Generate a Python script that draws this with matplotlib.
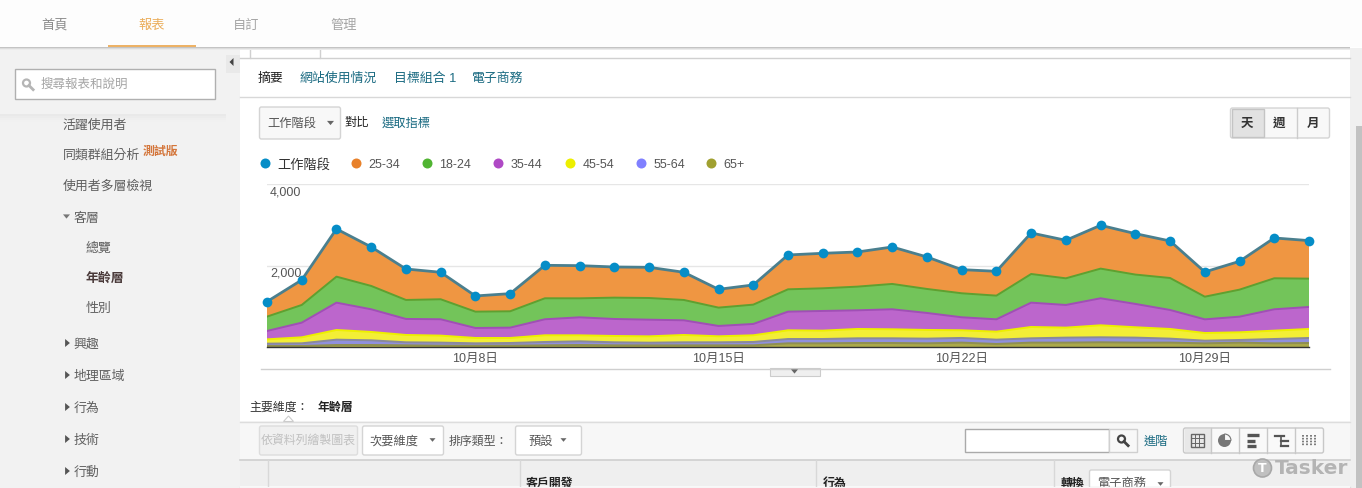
import matplotlib
matplotlib.use("Agg")
import matplotlib.pyplot as plt
from matplotlib.patches import Rectangle, FancyBboxPatch, Circle, Polygon, Wedge

plt.rcParams["font.family"] = ["Liberation Sans", "Noto Sans CJK TC", "DejaVu Sans"]

W, H = 1362, 489

days = list(range(2, 33))
age_65 = [33, 33, 57, 57, 49, 41, 41, 41, 49, 57, 49, 49, 49, 49, 49,
          98, 98, 106, 106, 98, 115, 82, 115, 115, 123, 115, 115, 98, 115, 98, 106]
age_55_64 = [57, 65, 131, 115, 74, 74, 57, 65, 82, 90, 74, 65, 74, 74, 82,
             106, 106, 115, 115, 115, 115, 106, 106, 123, 123, 123, 98, 65, 65, 106, 123]
age_45_54 = [106, 147, 237, 205, 180, 172, 131, 123, 164, 147, 155, 155, 180, 147, 164,
             213, 205, 229, 221, 213, 188, 196, 278, 245, 294, 254, 237, 188, 188, 205, 221]
age_35_44 = [205, 360, 671, 556, 393, 401, 245, 254, 393, 442, 417, 409, 360, 254, 278,
             458, 483, 458, 491, 417, 319, 303, 597, 556, 663, 573, 466, 335, 384, 524, 540]
age_18_24 = [352, 434, 638, 573, 466, 491, 401, 401, 515, 466, 524, 532, 499, 450, 474,
             548, 556, 581, 622, 589, 589, 581, 703, 654, 728, 720, 785, 556, 663, 761, 695]
age_25_34 = [368, 614, 1170, 957, 761, 663, 384, 434, 810, 802, 753, 753, 679, 450, 483,
             843, 859, 851, 908, 785, 581, 597, 1006, 933, 1063, 1006, 908, 605, 695, 990, 933]
sessions = [1121, 1652, 2904, 2462, 1922, 1841, 1260, 1317, 2012, 2004, 1971, 1963, 1841, 1423, 1530,
            2266, 2307, 2339, 2462, 2217, 1906, 1865, 2806, 2626, 2994, 2789, 2609, 1849, 2110, 2683, 2618]

y_ticks = [2000, 4000]
y_labels = ["2,000", "4,000"]
x_ticks = [8, 15, 22, 29]
x_labels = ["10月8日", "10月15日", "10月22日", "10月29日"]

legend_names = ["工作階段", "25-34", "18-24", "35-44", "45-54", "55-64", "65+"]
legend_colors = ["#058DC7", "#E8812A", "#50B432", "#AF49C5", "#EDEF00", "#8080FF", "#A0A030"]
legend_dots = [265, 356, 427, 498, 570, 641, 711]

TEAL = "#1B6B82"
TXT = "#555555"

fig = plt.figure(figsize=(W / 100, H / 100), dpi=100, facecolor="white")

# ui layer in pixel coordinates, nudged 1px down to line up with the screenshot
ui = fig.add_axes([0, 0, 1, 1], zorder=1)
ui.set_xlim(0.5, W + 0.5); ui.set_ylim(H - 1, -1); ui.axis("off")


def box(x0, y0, x1, y1, fc="white", ec="none", lw=1, z=2):
    ui.add_patch(Rectangle((x0, y0), x1 - x0, y1 - y0, fc=fc, ec=ec, lw=lw, zorder=z))


def rbox(x0, y0, x1, y1, fc="#f8f8f8", ec="#d4d4d4"):
    ui.add_patch(FancyBboxPatch((x0 + 2, y0 + 2), x1 - x0 - 4, y1 - y0 - 4, boxstyle="round,pad=2",
                                fc=fc, ec=ec, lw=1, zorder=3))


def txt(x, y, s, color=TXT, size=9.3, ha="left", weight="normal"):
    return ui.text(x, y, s, color=color, fontsize=size, ha=ha, va="center", weight=weight, zorder=5)


def tri(x, y, s=4, color="#666666", right=False):
    if right:
        pts = [(x - s * 0.6, y - s), (x - s * 0.6, y + s), (x + s * 0.6, y)]
    else:
        pts = [(x - s, y - s * 0.6), (x + s, y - s * 0.6), (x, y + s * 0.6)]
    ui.add_patch(Polygon(pts, fc=color, ec="none", zorder=5))


def glass(x, y, color="#555555", r=4):
    ui.add_patch(Circle((x, y), r, fc="none", ec=color, lw=1.6, zorder=5))
    ui.plot([x + r * 0.7, x + r * 1.9], [y + r * 0.7, y + r * 1.9], color=color, lw=2, zorder=5)


# sidebar and right gutter
box(0, 48, 240, H, fc="#f2f2f2", z=1)
box(1350, 48, W + 1, H, fc="#f0f0f0", z=1)
for i, c in enumerate(["#e9e9e9", "#ececec", "#efefef", "#f1f1f1"]):
    box(0, 114 + i * 2, 226, 116 + i * 2, fc=c, z=1)
box(226, 55, 240, 73, fc="#e9e9e9", z=1)
ui.add_patch(Polygon([(234, 58), (234, 66), (230, 62)], fc="#444444", zorder=3))
box(15.5, 68.5, 215.5, 98.5, fc="white", ec="#b0b0b0", lw=1)
glass(27, 83, color="#b5b5b5", r=3.5)
txt(41, 84, "搜尋報表和說明", color="#a5a5a5", size=9)

side_items = [(63, 124, "活躍使用者"), (63, 154, "同類群組分析"), (63, 185, "使用者多層檢視"),
              (74, 217, "客層"), (86, 247, "總覽"), (86, 307, "性別"), (74, 343, "興趣"),
              (74, 375, "地理區域"), (74, 407, "行為"), (74, 439, "技術"), (74, 471, "行動")]
for x, y, s in side_items:
    txt(x, y + 0.5, s, color="#5f5f5f")
txt(86, 277.5, "年齡層", color="#4a3a3a", weight="bold")
txt(143, 151, "測試版", color="#D4763B", size=8.6, weight="bold")
tri(67, 216.5, s=3.5, color="#777777")
for y in [343, 375, 407, 439, 471]:
    tri(68, y, s=4, color="#555555", right=True)

# top nav
box(0, -1, W + 1, 47, fc="#fdfdfd", z=6)
for i, c in enumerate(["#c4c4c4", "#dcdcdc", "#ebebeb"]):
    box(0, 47 + i, 1350, 48 + i, fc=c, z=6)
box(108, 45, 196, 47, fc="#EDB266", z=7)
for x, s, c in [(55, "首頁", "#8c8c8c"), (152, "報表", "#EBAE5C"), (247, "自訂", "#a5a5a5"), (344, "管理", "#a5a5a5")]:
    ui.text(x, 24.5, s, color=c, fontsize=9.5, ha="center", va="center", zorder=8)

# tabs
ui.plot([250, 250, 320, 320], [48, 58, 58, 48], color="#d0d0d0", lw=1, zorder=3)
ui.plot([240, 250], [58, 58], color="#d0d0d0", lw=1, zorder=3)
ui.plot([320, 1350], [58, 58], color="#d0d0d0", lw=1, zorder=3)
ui.plot([240, 1350], [96.5, 96.5], color="#d8d8d8", lw=1, zorder=3)
txt(258, 77.5, "摘要", color="#222222")
txt(300, 77.5, "網站使用情況", color=TEAL)
txt(394, 77.5, "目標組合 1", color=TEAL)
txt(472, 77.5, "電子商務", color=TEAL)

# metric selector
rbox(260, 107, 341, 139)
txt(268, 123, "工作階段", size=8.8)
tri(331, 123, s=3.5)
txt(345, 121.5, "對比", color="#222222", size=8.8)
txt(382, 122.5, "選取指標", color=TEAL, size=8.8)

# day week month
rbox(1231, 108, 1330, 138)
box(1232, 109, 1264, 137, fc="#e2e2e2", ec="#c4c4c4", z=4)
ui.plot([1297, 1297], [108, 138], color="#cccccc", lw=1, zorder=5)
for x, s in [(1247, "天"), (1280, "週"), (1313, "月")]:
    ui.text(x, 122.5, s, color="#333333", fontsize=9, ha="center", va="center", weight="bold", zorder=6)

# legend
for x, name, c in zip(legend_dots, legend_names, legend_colors):
    ui.plot([x], [163], "o", color=c, ms=7.2, mew=0, zorder=5)
    if name == legend_names[0]:
        txt(x + 13, 164, name, color="#333333", size=9.5)
    else:
        txt(x + 13, 163.5, name, size=9)

# chart strip bottom
ui.plot([261, 1330], [368.5, 368.5], color="#cfcfcf", lw=1, zorder=3)
box(770, 368, 820, 376, fc="#efefef", ec="#cccccc", lw=0.8)
tri(795, 371.5, s=3.5)

# primary dimension
txt(250, 406.5, "主要維度：", color="#333333", size=8.6)
txt(318, 406.5, "年齡層", color="#222222", size=8.6, weight="bold")

# toolbar band
box(240, 421, 1350, 460, fc="#f7f7f7", z=1)
ui.plot([240, 1350], [421.5, 421.5], color="#dddddd", lw=1, zorder=3)
ui.add_patch(Polygon([(284, 421.5), (289, 416), (294, 421.5)], fc="white", ec="#cccccc", lw=0.8, zorder=4))
rbox(260, 426, 358, 455, fc="#f0f0f0", ec="#dddddd")
ui.text(309, 440.5, "依資料列繪製圖表", color="#c0c0c0", fontsize=8.6, ha="center", va="center", zorder=5)
rbox(363, 426, 444, 455, fc="white")
txt(370, 440.5, "次要維度", size=8.8)
tri(433, 440, s=3)
txt(449, 440.5, "排序類型：", size=8.6)
rbox(516, 426, 582, 455, fc="white")
txt(529, 440.5, "預設", size=8.8)
tri(564, 440, s=3)
box(965, 429, 1109, 452, fc="white", ec="#aaaaaa")
box(1109, 429, 1137, 452, fc="#f8f8f8", ec="#d0d0d0")
glass(1122, 439, color="#444444", r=3.5)
txt(1144, 440.5, "進階", color=TEAL, size=8.8)
rbox(1184, 428, 1324, 453, fc="#f9f9f9", ec="#c8c8c8")
box(1185, 429, 1211, 452, fc="#e8e8e8", z=4)
for x in [1211, 1239.5, 1267.5, 1295.5]:
    ui.plot([x, x], [428, 453], color="#c8c8c8", lw=1, zorder=5)
box(1191, 434, 1204, 447, fc="none", ec="#666666", z=6)
for d in [4.3, 8.7]:
    ui.plot([1191 + d, 1191 + d], [434, 447], color="#666666", lw=0.7, zorder=6)
    ui.plot([1191, 1204], [434 + d, 434 + d], color="#666666", lw=0.7, zorder=6)
ui.add_patch(Circle((1225, 440.5), 6.5, fc="#777777", ec="none", zorder=6))
# y axis is flipped here, so this is the upper right quarter
ui.add_patch(Wedge((1225, 440.5), 6.5, 270, 360, fc="#f9f9f9", ec="#777777", lw=0.8, zorder=7))
for y, x1 in [(435, 1259), (440.5, 1255), (446, 1256)]:
    ui.plot([1247, x1], [y, y], color="#555555", lw=2.4, solid_capstyle="butt", zorder=6)
ui.plot([1275, 1284], [435.5, 435.5], color="#555555", lw=1.6, zorder=6)
ui.plot([1281, 1281], [435.5, 445.5], color="#555555", lw=1.2, zorder=6)
ui.plot([1281, 1288], [440.5, 440.5], color="#555555", lw=1.6, zorder=6)
ui.plot([1281, 1288], [445.5, 445.5], color="#555555", lw=1.6, zorder=6)
for x in [1303, 1307, 1311, 1315]:
    ui.plot([x, x], [435, 446], color="#666666", lw=1.2, ls=(0, (1, 0.7)), zorder=6)

# table head, cut off near the bottom edge
box(240, 460, 1350, 486, fc="#efefef")
ui.plot([240, 1350], [460, 460], color="#cfcfcf", lw=1.2, zorder=3)
ui.plot([240, 1350], [486.5, 486.5], color="#dcdcdc", lw=1, zorder=7)
box(240, 487, 1350, H, fc="#f6f6f6", z=7)
for x in [268, 520, 816, 1054]:
    ui.plot([x, x], [460, 486], color="#d8d8d8", lw=1, zorder=3)
txt(526, 483, "客戶開發", color="#222222", size=8.6, weight="bold")
txt(823, 483, "行為", color="#222222", size=8.6, weight="bold")
txt(1061, 483, "轉換", color="#222222", size=8.6, weight="bold")
rbox(1090, 470, 1171, 500, fc="white")
txt(1098, 483, "電子商務", size=8.8)
tri(1161, 484, s=3)

# watermark
ui.add_patch(Circle((1263, 468), 9, fc="#c0c0c0", ec="#a8a8a8", lw=1.2, zorder=8))
ui.text(1263, 468, "T", color="white", fontsize=9, ha="center", va="center", weight="bold",
        family="DejaVu Sans", zorder=9)
ui.text(1275, 468, "Tasker", color="#b4b4b4", fontsize=14.5, ha="left", va="center", weight="bold",
        family="DejaVu Sans", zorder=9)

# scrollbar thumb
box(1356, 126, W + 1, H, fc="#c2c2c2", z=3)

# chart
x0, x1, ytop, ybot = 267.0, 1309.0, 185.3, 348.3
ax = fig.add_axes([x0 / W, 1 - ybot / H, (x1 - x0) / W, (ybot - ytop) / H], zorder=2)
ax.patch.set_alpha(0)
ax.set_xlim(days[0], days[-1]); ax.set_ylim(0, 4000)
for s in ax.spines.values():
    s.set_visible(False)
ax.spines["bottom"].set_visible(True)
ax.spines["bottom"].set_color("#333333")
ax.spines["bottom"].set_linewidth(1)
ax.set_yticks(y_ticks); ax.set_yticklabels([])
ax.set_xticks(x_ticks); ax.set_xticklabels(x_labels, color=TXT, fontsize=9)
ax.tick_params(length=0, pad=3)
ax.grid(axis="y", color="#e6e6e6", lw=1)
ax.set_axisbelow(True)

layers = [age_65, age_55_64, age_45_54, age_35_44, age_18_24, age_25_34]
fills = ["#ABA94A", "#9090DD", "#F3EE36", "#BC66CC", "#73C45A", "#EF9642"]
edges = ["#8f8f50", "#8a8a9a", "#EDEF00", "#A04FB5", "#5FA030", "#EF9642"]
ax.stackplot(days, layers, colors=fills, lw=0)
cum = [0] * len(days)
for vals, c in zip(layers[:-1], edges[:-1]):
    cum = [a + b for a, b in zip(cum, vals)]
    ax.plot(days, cum, color=c, lw=1.4)
ax.plot(days, sessions, color="#4A7F8E", lw=2, clip_on=False, zorder=4)
ax.plot(days, sessions, "o", color="#058DC7", ms=7, mew=0, clip_on=False, zorder=5)

for v, s in zip(y_ticks, y_labels):
    ax.annotate(s, (days[0], v), xytext=(3, -7), textcoords="offset pixels", color=TXT, fontsize=9,
                ha="left", va="center", annotation_clip=False)

fig.savefig("out.png", dpi=100, facecolor="white")
